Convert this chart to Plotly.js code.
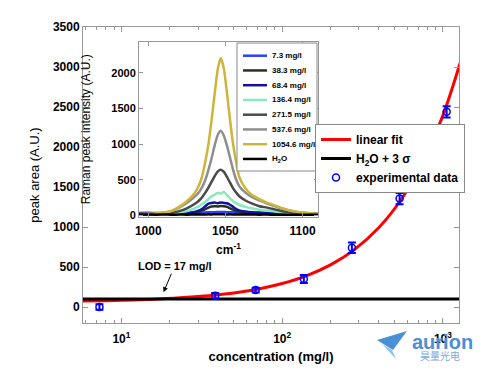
<!DOCTYPE html>
<html><head><meta charset="utf-8">
<script src="https://cdn.plot.ly/plotly-3.0.1.min.js"></script>
<style>html,body{margin:0;padding:0;background:#fff}#chart{width:485px;height:370px}</style>
</head><body><div id="chart"></div>
<script>
// ---- main plot data ----
const concentration = [7.3, 38.3, 68.4, 136.4, 271.5, 537.6, 1054.6];
const peakArea = [0, 140, 212, 350, 740, 1355, 2440];
const peakAreaErr = [35, 35, 30, 50, 65, 70, 70];
const fitConc = [5.5, 8, 10, 13, 17, 22, 30, 40, 55, 75, 100, 140, 200, 280, 400, 550, 750, 1000, 1300];
const fitArea = [73, 79, 83, 90, 100, 111, 130, 153, 188, 235, 294, 387, 527, 714, 994, 1344, 1811, 2395, 3096];
const blankConc = [5, 1300];
const blankLevel = [100, 100];
const xMajorTicks = [10, 100, 1000];
const xMajorLabels = ['10<sup>1</sup>', '10<sup>2</sup>', '10<sup>3</sup>'];
const xMinorTicks = [6, 7, 8, 9, 20, 30, 40, 50, 60, 70, 80, 90, 200, 300, 400, 500, 600, 700, 800, 900];
const yTicks = [0, 500, 1000, 1500, 2000, 2500, 3000, 3500];

// ---- inset data ----
const wavenumber = [994, 1000, 1005, 1010, 1015, 1020, 1025, 1030, 1033, 1035, 1037, 1039, 1041, 1043, 1045, 1047, 1049, 1051, 1053, 1055, 1057, 1059, 1063, 1067, 1072, 1077, 1082, 1087, 1092, 1097, 1102, 1106, 1110];
const spec7_3 = [35,38,33,36,32,35,34,36,38,40,42,44,45,46,47,48,47,46,45,43,42,40,38,36,35,34,33,32,31,30,30,29,28];
const spec38_3 = [20,18,20,22,20,25,30,40,55,70,90,110,125,130,126,132,128,120,100,80,60,50,40,35,30,28,25,25,22,20,18,18,15];
const spec68_4 = [30,25,28,30,25,30,35,50,70,95,130,165,175,180,172,182,176,170,150,120,90,70,55,45,40,35,30,30,25,25,20,20,18];
const spec136_4 = [10,10,12,15,25,40,60,100,130,160,190,230,270,290,320,305,330,285,240,200,170,150,120,100,80,70,55,45,35,25,18,15,12];
const spec271_5 = [10,12,15,22,35,60,100,160,210,260,320,390,470,550,615,640,610,540,460,380,320,270,210,170,130,110,85,60,45,30,22,18,15];
const spec537_6 = [15,18,22,35,60,110,175,260,330,400,500,640,800,980,1130,1190,1120,980,810,640,500,410,320,260,210,165,130,95,65,45,35,25,20];
const spec1054_6 = [20,22,28,40,65,120,200,310,430,560,760,1000,1330,1700,2050,2210,2060,1720,1340,1000,740,540,380,290,230,180,140,100,70,50,40,30,25];
const specH2O = [12,14,11,13,10,12,11,13,12,14,13,15,14,16,15,16,15,14,15,13,14,13,12,13,11,12,10,11,10,9,10,9,9];
const spectraLabels = ['7.3 mg/l', '38.3 mg/l', '68.4 mg/l', '136.4 mg/l', '271.5 mg/l', '537.6 mg/l', '1054.6 mg/l', 'H<sub>2</sub>O'];
const spectraColors = ['#2a40ff', '#223322', '#12129e', '#88e8bf', '#4a4a4a', '#8e8e8e', '#cdb53c', '#000000'];
const spectra = [spec7_3, spec38_3, spec68_4, spec136_4, spec271_5, spec537_6, spec1054_6, specH2O];
const insetXTicks = [1000, 1050, 1100];
const insetYTicks = [0, 500, 1000, 1500, 2000];

// ---- layout helpers (pixel -> paper) ----
const W = 485, H = 370, L = 83, R = 26, T = 27, B = 47;
const pw = W - L - R, ph = H - T - B;
const px = v => (v - L) / pw;
const py = v => (H - B - v) / ph;

const FONT = 'Liberation Sans, Arial, sans-serif';
const bold = (size, color) => ({family: FONT, size: size, color: color || '#000', weight: 'bold'});

const traces = [
  {x: fitConc, y: fitArea, mode: 'lines', name: 'linear fit', line: {color: '#ff0000', width: 3, shape: 'spline'}, xaxis: 'x', yaxis: 'y'},
  {x: blankConc, y: blankLevel, mode: 'lines', name: 'H<sub>2</sub>O + 3 σ', line: {color: '#000000', width: 3}, xaxis: 'x', yaxis: 'y'},
  {x: concentration, y: peakArea, mode: 'markers', name: 'experimental data',
   marker: {symbol: 'circle-open', size: 7, color: '#0000ff', line: {width: 1.5, color: '#0000ff'}},
   error_y: {type: 'data', array: peakAreaErr, visible: true, color: '#0000ff', thickness: 2, width: 4},
   xaxis: 'x', yaxis: 'y'}
];
spectra.forEach((s, i) => {
  traces.push({x: wavenumber, y: s, mode: 'lines', name: spectraLabels[i], showlegend: false,
    line: {color: spectraColors[i], width: 2.5, shape: 'spline', smoothing: 0.6}, xaxis: 'x2', yaxis: 'y2'});
});

// inset legend drawn as box + samples + texts
const shapes = [];
const annotations = [];
shapes.push({type: 'rect', xref: 'paper', yref: 'paper', x0: px(237), x1: px(317), y0: py(171), y1: py(43),
  line: {color: '#888', width: 1}, fillcolor: '#ffffff', layer: 'above'});
spectraLabels.forEach((lab, i) => {
  const yy = 55.7 + i * 14.75;
  shapes.push({type: 'line', xref: 'paper', yref: 'paper', x0: px(243), x1: px(267), y0: py(yy), y1: py(yy),
    line: {color: spectraColors[i], width: 2.5}, layer: 'above'});
  annotations.push({xref: 'paper', yref: 'paper', x: px(270), y: py(yy), xanchor: 'left', yanchor: 'middle',
    text: lab, showarrow: false, font: bold(8)});
});

// LOD annotation
annotations.push({xref: 'x', yref: 'y', x: 1.262, y: 185, text: 'LOD = 17 mg/l', showarrow: true,
  ax: 11, ay: -26, arrowhead: 2, arrowsize: 1, arrowwidth: 1, arrowcolor: '#000', font: bold(11)});

// watermark
shapes.push({type: 'path', xref: 'paper', yref: 'paper',
  path: `M ${px(377)} ${py(340)} L ${px(407)} ${py(331)} L ${px(393)} ${py(350)} Z`,
  fillcolor: '#4b8fd6', line: {width: 0}, layer: 'above'});
shapes.push({type: 'path', xref: 'paper', yref: 'paper',
  path: `M ${px(382)} ${py(344)} L ${px(392)} ${py(350)} L ${px(396)} ${py(359)} Z`,
  fillcolor: '#8cc4ee', line: {width: 0}, layer: 'above'});
annotations.push({xref: 'paper', yref: 'paper', x: px(442), y: py(342), text: 'aurion', showarrow: false,
  font: {family: FONT, size: 20, color: '#4b8fd6', weight: 'bold'}, xanchor: 'center', yanchor: 'middle'});
annotations.push({xref: 'paper', yref: 'paper', x: px(440), y: py(355), text: '昊量光电', showarrow: false,
  font: {family: 'Noto Sans CJK SC', size: 10, color: '#7aa8dc'}, xanchor: 'center', yanchor: 'middle'});

const layout = {
  width: W, height: H,
  margin: {l: L, r: R, t: T, b: B, pad: 0},
  paper_bgcolor: '#ffffff', plot_bgcolor: '#ffffff',
  font: {family: FONT, color: '#000'},
  showlegend: true,
  legend: {x: px(315), y: py(124), xanchor: 'left', yanchor: 'top', bgcolor: '#ffffff',
    bordercolor: '#888', borderwidth: 1, font: bold(12), itemwidth: 30, tracegroupgap: 0},
  xaxis: {type: 'log', range: [0.761, 3.1], domain: [0, 1], anchor: 'y',
    tickmode: 'array', tickvals: xMajorTicks, ticktext: xMajorLabels,
    ticks: 'inside', ticklen: 5, tickcolor: '#999', showline: true, linecolor: '#999', mirror: 'ticks',
    showgrid: false, zeroline: false, tickfont: bold(12), ticklabelstandoff: 5,
    minor: {tickmode: 'array', tickvals: xMinorTicks, ticks: 'inside', ticklen: 3, tickcolor: '#999', showgrid: false},
    title: {text: 'concentration (mg/l)', font: bold(13), standoff: 6}},
  yaxis: {range: [-200, 3500], domain: [0, 1], anchor: 'x',
    tickmode: 'array', tickvals: yTicks,
    ticks: 'inside', ticklen: 5, tickcolor: '#999', showline: true, linecolor: '#999', mirror: 'ticks',
    showgrid: false, zeroline: false, tickfont: bold(12),
    title: {text: 'peak area (A.U.)', font: {family: FONT, size: 13, color: '#000'}, standoff: 10}},
  xaxis2: {range: [994, 1110], domain: [px(139), px(318)], anchor: 'y2',
    tickmode: 'array', tickvals: insetXTicks,
    ticks: 'inside', ticklen: 4, tickcolor: '#999', showline: true, linecolor: '#999', mirror: 'ticks',
    showgrid: false, zeroline: false, tickfont: bold(12), ticklabelstandoff: 3,
    title: {text: 'cm<sup>-1</sup>', font: bold(12), standoff: 8}},
  yaxis2: {range: [-15, 2435], domain: [py(216.5), py(42)], anchor: 'x2',
    tickmode: 'array', tickvals: insetYTicks,
    ticks: 'inside', ticklen: 4, tickcolor: '#999', showline: true, linecolor: '#999', mirror: 'ticks',
    showgrid: false, zeroline: false, tickfont: bold(11),
    title: {text: 'Raman peak intensity (A.U.)', font: {family: FONT, size: 12, color: '#000'}, standoff: 18}},
  shapes: shapes,
  annotations: annotations
};

Plotly.newPlot('chart', traces, layout, {displayModeBar: false, staticPlot: true});
</script>
</body></html>
